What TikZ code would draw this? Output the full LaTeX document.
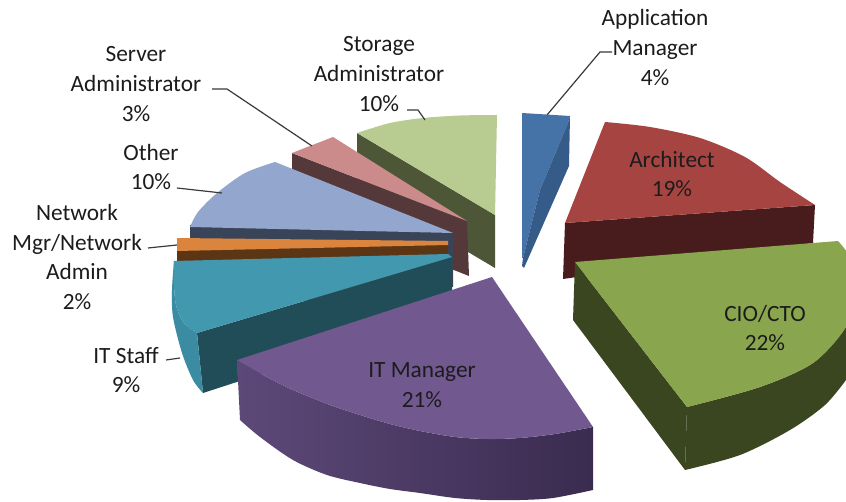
\documentclass[tikz,border=0pt]{standalone}
\usepackage{fontspec}
\setmainfont{Carlito}
\begin{document}
\begin{tikzpicture}[x=1pt,y=-1pt,
  lbl/.style={font=\fontsize{23.3}{29.8}\selectfont, text=labelcol, align=center, inner sep=0pt},
  leader/.style={draw=leadcol, line width=1.2pt},
]
\definecolor{labelcol}{HTML}{1C1C1C}
\definecolor{leadcol}{HTML}{3A3A3A}
\definecolor{cioTop}{HTML}{89A54E}
\definecolor{cioSide}{HTML}{3A4620}
\definecolor{archTop}{HTML}{A64442}
\definecolor{archSide}{HTML}{481C1C}
\definecolor{appTop}{HTML}{4572A7}
\definecolor{appSide}{HTML}{355B88}
\definecolor{storTop}{HTML}{B8CC92}
\definecolor{storSide}{HTML}{4D5637}
\definecolor{servTop}{HTML}{CC8B8B}
\definecolor{servSide}{HTML}{55383A}
\definecolor{othTop}{HTML}{93A7CE}
\definecolor{othSide}{HTML}{3A4458}
\definecolor{netTop}{HTML}{DB843D}
\definecolor{netSide}{HTML}{5C3614}
\definecolor{staffTop}{HTML}{4298AF}
\definecolor{staffSide}{HTML}{214D59}
\definecolor{staffOuter}{HTML}{3B8CA2}
\definecolor{mgrTop}{HTML}{71588F}
\definecolor{mgrSideL}{HTML}{5D4979}
\definecolor{mgrSideR}{HTML}{3A2B4F}
\useasboundingbox (0,0) rectangle (846,502);
\fill[white] (0,0) rectangle (846,502);
\begin{scope}
\clip (0,0) rectangle (846,502);
% Storage Administrator
\fill[storSide] (357,133) -- (495,215) -- (495,268) -- (357,186) -- cycle;
\fill[storTop] (495,215) -- (357,133) -- plot[smooth] coordinates {(357,133) (390,123) (423,118) (460,115.5) (497,115)} -- cycle;
% Application Manager
\fill[appTop] (522,113) -- (570,116) -- (568,123) -- (540,190) -- (523,258) -- (522,258) -- cycle;
\fill[appSide] (570,116) -- (569,166) -- (524,268) -- (522,266) -- (523,258) -- (540,190) -- (568,123) -- cycle;
% Architect
\fill[archSide] (565,223) -- (815,205) -- (813,243) -- (563,279) -- cycle;
\fill[archTop] (565,223) -- (605,122) -- plot[smooth] coordinates {(605,122) (650,127) (700,138) (745,157) (780,182) (815,205)} -- cycle;
% Server Administrator
\fill[servSide] (292,153) -- (467,221) -- (469,276) -- (292,206) -- cycle;
\fill[servTop] (292,153) -- (333,137) -- (467,221) -- cycle;
% Other
\fill[othSide] (190,225) -- (453,233) -- (453,287) -- (190,279) -- cycle;
\fill[othTop] (453,233) -- (275,162) -- plot[smooth] coordinates {(275,162) (245,173) (217,193) (198,212) (190,227)} -- cycle;
% Network Mgr
\fill[netSide] (177,250) -- (448,245) -- (448,298) -- (177,303) -- cycle;
\fill[netTop] (177,238) -- (448,241) -- (448,245) -- (177,251) -- cycle;
% IT Staff
\fill[staffSide] (197,333) -- (452,257) -- (452,312) -- (203,393) -- cycle;
\fill[staffOuter] plot[smooth] coordinates {(174,261) (172,290) (173,317) (182,353) (193,380) (203,393)} -- (197,333) -- plot[smooth] coordinates {(197,333) (183,322) (176,305) (174,285) (174,261)} -- cycle;
\fill[staffTop] (452,257) -- (197,333) -- plot[smooth] coordinates {(197,333) (183,322) (176,305) (174,285) (174,261)} -- (448,254) -- cycle;
% IT Manager
\shade[left color=mgrSideL, right color=mgrSideR] plot[smooth] coordinates {(237,360) (265,376) (293,390) (330,405) (360,415) (390,424) (420,431) (455,437) (487,439) (520,438) (555,434) (593,427)} -- (593,490) -- plot[smooth] coordinates {(593,490) (553,498) (520,500) (487,500) (455,498) (420,493) (390,489) (360,483) (327,475) (293,460) (260,437) (240,420)} -- cycle;
\fill[mgrTop] (237,360) -- (492,277) -- (593,427) -- plot[smooth] coordinates {(593,427) (555,434) (520,438) (487,439) (455,437) (420,431) (390,424) (360,415) (330,405) (293,390) (265,376) (237,360)} -- cycle;
% CIO/CTO
\fill[cioSide] (575,262) -- (687,407) -- (685,470) -- (573,320) -- cycle;
\fill[cioSide] plot[smooth] coordinates {(687,407) (760,387) (813,363) (846,327) (870,280)} -- (870,360) -- plot[smooth] coordinates {(846,380) (825,405) (790,430) (740,455) (685,470)} -- cycle;
\fill[cioTop] (575,262) -- (838,241) -- plot[smooth] coordinates {(838,241) (850,258) (855,290) (846,327) (813,363) (760,387) (687,407)} -- cycle;
\end{scope}
% labels
\node[lbl] (lApp) at (655,47.5) {Application\\Manager\\4\%};
\node[lbl] (lStor) at (379,74) {Storage\\Administrator\\10\%};
\node[lbl] (lServ) at (136,84) {Server\\Administrator\\3\%};
\node[lbl] (lOth) at (151,167) {Other\\10\%};
\node[lbl] (lNet) at (77,257) {Network\\Mgr/Network\\Admin\\2\%};
\node[lbl] (lStaff) at (126,370) {IT Staff\\9\%};
\node[lbl] (lArch) at (672,174) {Architect\\19\%};
\node[lbl] (lCio) at (765,328) {CIO/CTO\\22\%};
\node[lbl] (lMgr) at (422,385) {IT Manager\\21\%};
% leader lines
\coordinate (appA) at (612,52); \coordinate (appB) at (600,52); \coordinate (appC) at (547,115);
\coordinate (storA) at (407,110); \coordinate (storB) at (418,110); \coordinate (storC) at (425,120);
\coordinate (servA) at (212,89); \coordinate (servB) at (227,89); \coordinate (servC) at (312,146);
\coordinate (othA) at (177,188); \coordinate (othB) at (222,193);
\coordinate (netA) at (148,248); \coordinate (netB) at (177,245);
\coordinate (stfA) at (166,360); \coordinate (stfB) at (180,358);
\draw[leader] (appA) -- (appB) -- (appC);
\draw[leader] (storA) -- (storB) -- (storC);
\draw[leader] (servA) -- (servB) -- (servC);
\draw[leader] (othA) -- (othB);
\draw[leader] (netA) -- (netB);
\draw[leader] (stfA) -- (stfB);
\end{tikzpicture}
\end{document}
